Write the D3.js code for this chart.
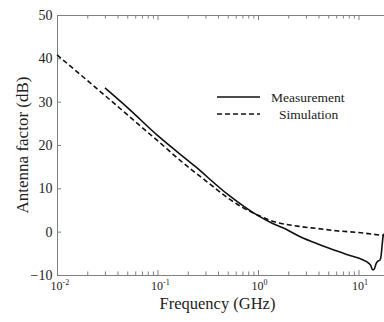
<!DOCTYPE html>
<html>
<head>
<meta charset="utf-8">
<script src="https://cdn.jsdelivr.net/npm/d3@7"></script>
<style>
  body { margin: 0; background: #fff; }
</style>
</head>
<body>
<div class="chart"></div>
<script>
// simulated antenna factor
const simFreq = [0.01, 0.02, 0.05, 0.1, 0.2, 0.3, 0.5, 0.7, 1, 1.4, 2, 2.6, 4, 6, 10, 14, 18];
const simAF = [40.8, 34.9, 27.0, 21.0, 15.0, 11.8, 7.8, 5.6, 3.8, 2.4, 1.6, 1.2, 0.7, 0.2, -0.2, -0.6, -0.9];

// measured antenna factor
const measFreq = [0.03, 0.05, 0.1, 0.236, 0.5, 1, 1.4, 1.77, 2.6, 4, 5.2, 8.2, 11, 12.5, 13.3, 13.8, 14.3, 15, 15.6, 16.3, 16.8, 17.2, 17.6, 18];
const measAF = [33.2, 28.7, 22.2, 15.1, 8.6, 3.7, 1.9, 0.9, -1.1, -2.9, -3.9, -5.5, -6.5, -7.2, -7.9, -8.8, -8.7, -7.3, -6.8, -6.6, -5.5, -3.0, -1.0, -0.5];

const yTicks = [-10, 0, 10, 20, 30, 40, 50];
const xMajor = [0.01, 0.1, 1, 10];

const width = 384;
const height = 322;
const margin = { left: 57, top: 15, bottom: 47 };
const font = "'Liberation Serif', 'Times New Roman', Times, serif";

const x = d3.scaleLog()
  .domain([0.01, 20])
  .range([margin.left, margin.left + 100.5 * Math.log10(2000)]);

const y = d3.scaleLinear()
  .domain([-10, 50])
  .range([height - margin.bottom, margin.top]);

// all log ticks: 1..9 per decade
const xAll = [];
[0.01, 0.1, 1, 10].forEach(d => {
  for (let k = 1; k <= 9; k++) {
    const v = d * k;
    if (v <= 20) xAll.push(+v.toPrecision(3));
  }
});
xAll.push(20);

const svg = d3.select('.chart')
  .append('svg')
  .attr('width', width)
  .attr('height', height)
  .attr('font-family', font)
  .style('font-family', font);

const axisColor = '#808080';

// bottom axis, ticks pointing inward
const bottomAxis = svg.append('g')
  .attr('transform', `translate(0, ${y(-10)})`)
  .call(d3.axisBottom(x).tickValues(xAll).tickSize(-3).tickSizeOuter(0).tickFormat(''));
bottomAxis.selectAll('.tick line')
  .attr('y2', d => xMajor.includes(d) ? -5 : -3.5);

// top axis
const topAxis = svg.append('g')
  .attr('transform', `translate(0, ${y(50)})`)
  .call(d3.axisTop(x).tickValues(xAll).tickSize(-3).tickSizeOuter(0).tickFormat(''));
topAxis.selectAll('.tick line')
  .attr('y2', d => xMajor.includes(d) ? 5 : 3.5);

// left axis
const leftAxis = svg.append('g')
  .attr('transform', `translate(${margin.left}, 0)`)
  .call(d3.axisLeft(y).tickValues(yTicks).tickSize(-4).tickSizeOuter(0).tickPadding(4.5));
leftAxis.attr('font-family', font).attr('font-size', 14);
leftAxis.selectAll('.tick text')
  .attr('fill', '#222');

svg.selectAll('.domain, .tick line')
  .attr('stroke', axisColor);

// x tick labels: 10 with superscript exponent
svg.append('g')
  .selectAll('text')
  .data(xMajor)
  .enter()
  .append('text')
  .attr('x', d => x(d) - 6.5)
  .attr('y', 289.5)
  .attr('font-size', 12)
  .attr('fill', '#222')
  .each(function (d) {
    const t = d3.select(this);
    t.append('tspan').text('10');
    t.append('tspan')
      .attr('dy', -5)
      .attr('font-size', 8)
      .text(Math.round(Math.log10(d)));
  });

// axis titles
svg.append('text')
  .attr('x', 217.5)
  .attr('y', 308.5)
  .attr('text-anchor', 'middle')
  .attr('font-size', 16.5)
  .attr('fill', '#222')
  .text('Frequency (GHz)');

svg.append('text')
  .attr('transform', `translate(28, 145) rotate(-90)`)
  .attr('text-anchor', 'middle')
  .attr('font-size', 17)
  .attr('fill', '#222')
  .text('Antenna factor (dB)');

// curves
const line = d3.line()
  .x(d => x(d[0]))
  .y(d => y(d[1]))
  .curve(d3.curveMonotoneX);

svg.append('path')
  .datum(simFreq.map((f, i) => [f, simAF[i]]))
  .attr('d', line)
  .attr('fill', 'none')
  .attr('stroke', '#111')
  .attr('stroke-width', 1.6)
  .attr('stroke-dasharray', '5,3');

svg.append('path')
  .datum(measFreq.map((f, i) => [f, measAF[i]]))
  .attr('d', line)
  .attr('fill', 'none')
  .attr('stroke', '#111')
  .attr('stroke-width', 1.6);

// legend
const legend = svg.append('g');
legend.append('line')
  .attr('x1', 217).attr('x2', 260)
  .attr('y1', 97).attr('y2', 97)
  .attr('stroke', '#111').attr('stroke-width', 1.5);
legend.append('text')
  .attr('x', 271).attr('y', 102)
  .attr('font-size', 13.5)
  .attr('fill', '#222')
  .text('Measurement');
legend.append('line')
  .attr('x1', 217).attr('x2', 260)
  .attr('y1', 114).attr('y2', 114)
  .attr('stroke', '#111').attr('stroke-width', 1.5)
  .attr('stroke-dasharray', '5,3');
legend.append('text')
  .attr('x', 279).attr('y', 119)
  .attr('font-size', 13.5)
  .attr('fill', '#222')
  .text('Simulation');
</script>
</body>
</html>
